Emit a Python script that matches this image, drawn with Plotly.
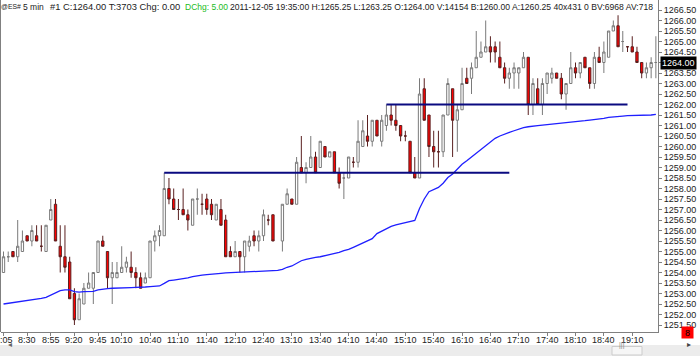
import plotly.graph_objects as go

# ---------------- data ----------------
bars = [i for i in range(139) if i != 58]
opens = [1254.0,1254.75,1255.0,1254.75,1255.0,1255.75,1255.5,1255.75,1255.25,1255.0,
         1256.5,1257.25,1255.25,1254.75,1254.5,1253.0,1251.75,1252.5,1253.25,1253.25,
         1254.0,1255.5,1255.0,1253.75,1253.75,1254.0,1254.25,1254.25,1254.0,1253.75,
         1253.5,1253.75,1255.5,1255.75,1255.75,1258.0,1257.5,1257.0,1257.0,1256.75,
         1256.25,1257.5,1257.25,1257.5,1257.25,1256.5,1257.0,1256.5,1255.0,1254.75,
         1255.0,1254.75,1255.25,1255.75,1255.5,1255.75,1256.5,1256.75,
         1255.5,1257.25,1257.5,1257.25,1259.0,1258.75,1259.0,1259.5,1259.0,1260.0,1259.5,
         1259.75,1258.75,1258.5,1258.5,1259.25,1259.25,1260.0,1260.5,1260.25,1261.25,
         1260.25,1261.0,1261.5,1261.25,1261.0,1260.5,1260.25,1258.75,1258.5,1262.75,
         1261.5,1260.0,1259.75,1259.75,1261.5,1262.75,1261.25,1261.75,1263.25,1263.25,
         1263.75,1264.25,1264.5,1264.75,1264.75,1264.25,1263.75,1263.25,1263.5,1263.5,
         1263.75,1264.25,1262.0,1262.75,1262.0,1263.0,1263.25,1263.5,1263.25,1262.5,
         1263.0,1263.75,1263.5,1264.25,1263.75,1263.0,1264.25,1264.0,1264.25,1265.5,
         1265.75,1265.0,1264.75,1264.75,1264.5,1264.0,1263.5,1263.75,1264.0]
highs = [1255.0,1255.0,1255.0,1256.5,1256.0,1255.75,1256.25,1256.25,1256.25,1256.25,
         1257.5,1257.5,1256.25,1256.25,1254.75,1253.25,1253.0,1253.5,1254.0,1254.0,
         1255.5,1255.75,1255.0,1254.5,1254.5,1255.25,1254.75,1255.0,1254.25,1254.0,
         1254.0,1255.5,1256.0,1256.25,1258.75,1258.5,1258.0,1257.5,1258.0,1257.0,
         1257.5,1258.0,1257.75,1257.75,1257.5,1257.25,1257.5,1256.75,1255.25,1255.5,
         1255.0,1255.5,1255.75,1256.0,1256.0,1257.0,1256.75,1256.75,
         1257.25,1258.0,1257.5,1259.5,1260.5,1259.25,1260.5,1259.75,1260.25,1260.0,1259.75,
         1259.75,1259.0,1258.75,1259.5,1259.5,1261.25,1261.25,1261.5,1261.25,1261.25,
         1261.5,1262.0,1262.0,1262.0,1261.0,1260.75,1260.25,1259.5,1263.25,1263.25,
         1261.5,1260.75,1260.75,1261.5,1263.25,1262.75,1262.0,1263.75,1263.75,1264.0,
         1265.5,1265.0,1266.0,1265.25,1265.0,1265.0,1264.0,1263.75,1264.0,1263.75,
         1264.5,1264.25,1263.25,1263.25,1263.25,1263.5,1263.75,1263.5,1263.5,1263.0,
         1264.5,1264.0,1264.0,1264.25,1263.75,1264.5,1264.75,1265.0,1265.5,1266.0,
         1266.25,1265.5,1264.75,1265.25,1264.75,1264.0,1264.0,1264.25,1265.25]
lows = [1254.0,1254.5,1254.75,1254.5,1255.0,1255.5,1255.25,1255.5,1255.0,1255.0,
        1256.5,1255.5,1254.0,1254.0,1252.75,1251.5,1251.75,1252.5,1253.25,1252.5,
        1254.0,1255.25,1253.25,1252.5,1253.75,1254.0,1254.0,1253.75,1253.25,1253.25,
        1253.5,1253.75,1255.0,1255.25,1255.75,1257.25,1257.0,1256.5,1256.75,1256.0,
        1256.25,1256.75,1256.75,1256.75,1256.5,1256.5,1256.25,1254.75,1254.75,1254.75,
        1254.0,1254.0,1255.0,1255.25,1255.0,1255.5,1256.25,1255.5,
        1255.0,1257.25,1257.25,1257.25,1258.75,1258.25,1259.0,1258.75,1259.0,1259.5,1259.5,
        1258.75,1258.0,1257.5,1258.5,1259.0,1259.0,1260.0,1260.0,1260.0,1260.5,
        1260.0,1260.75,1261.0,1260.75,1260.25,1260.25,1258.75,1258.5,1258.5,1261.25,
        1259.5,1259.0,1259.0,1259.5,1261.5,1259.5,1259.75,1261.75,1263.0,1262.5,
        1263.75,1264.25,1264.5,1264.0,1264.0,1263.75,1263.0,1262.75,1262.75,1262.75,
        1263.75,1261.5,1261.5,1262.0,1261.5,1262.5,1263.0,1263.25,1262.25,1261.75,
        1263.0,1263.25,1263.25,1263.75,1262.75,1262.75,1264.0,1263.5,1264.25,1265.5,
        1264.75,1264.5,1264.5,1264.5,1264.0,1263.25,1263.25,1263.25,1263.25]
closes = [1254.75,1254.75,1254.75,1255.25,1255.5,1255.5,1256.0,1255.5,1255.25,1256.25,
          1257.0,1255.5,1254.75,1254.25,1252.75,1251.75,1252.75,1253.25,1253.5,1254.0,
          1255.5,1255.25,1253.75,1254.0,1254.0,1254.25,1254.5,1254.0,1253.75,1253.25,
          1253.75,1255.5,1255.75,1256.0,1258.0,1257.5,1257.0,1257.0,1256.75,1256.5,
          1257.5,1257.5,1257.25,1257.0,1256.75,1257.25,1256.25,1254.75,1254.75,1255.0,
          1254.75,1255.5,1255.5,1255.5,1255.75,1256.75,1256.5,1255.5,
          1257.25,1257.75,1257.25,1259.25,1258.75,1259.0,1259.5,1258.75,1260.25,1259.5,1259.75,
          1258.75,1258.25,1258.5,1259.5,1259.25,1260.25,1260.75,1260.25,1261.25,1260.5,
          1261.25,1261.5,1261.25,1261.0,1260.5,1260.5,1258.75,1258.5,1262.5,1261.25,
          1260.0,1259.75,1259.75,1261.5,1263.0,1261.25,1261.75,1263.0,1263.0,1263.75,
          1264.25,1264.5,1264.75,1264.5,1264.5,1263.75,1263.25,1263.5,1263.75,1263.75,
          1264.25,1262.0,1263.0,1262.0,1263.0,1263.5,1263.5,1263.25,1262.5,1263.0,
          1263.75,1263.5,1264.0,1263.75,1263.0,1264.25,1264.0,1264.5,1265.5,1265.75,
          1264.75,1265.0,1264.75,1264.5,1264.0,1263.5,1263.75,1264.0,1264.0]

avg_line = [1252.50,1252.53,1252.56,1252.60,1252.63,1252.66,1252.69,1252.72,1252.77,1252.82,
            1252.93,1253.04,1253.14,1253.17,1253.17,1253.09,1253.07,1253.09,1253.09,1253.10,
            1253.17,1253.21,1253.23,1253.25,1253.25,1253.26,1253.28,1253.28,1253.29,1253.29,
            1253.31,1253.33,1253.34,1253.36,1253.48,1253.61,1253.64,1253.67,1253.71,1253.74,
            1253.80,1253.85,1253.88,1253.90,1253.91,1253.93,1253.96,1253.98,1253.99,1253.99,
            1254.01,1254.02,1254.02,1254.04,1254.06,1254.07,1254.07,1254.09,1254.10,1254.15,
            1254.25,1254.31,1254.44,1254.56,1254.63,1254.69,1254.72,1254.75,1254.80,1254.85,
            1254.91,1254.96,1255.04,1255.10,1255.20,1255.31,1255.42,1255.52,1255.61,1255.85,
            1255.97,1256.10,1256.20,1256.27,1256.33,1256.38,1256.43,1256.48,1257.05,1257.50,
            1257.85,1257.95,1258.05,1258.25,1258.52,1258.69,1258.92,1259.15,1259.32,1259.50,
            1259.70,1259.87,1260.02,1260.20,1260.39,1260.50,1260.60,1260.67,1260.75,1260.83,
            1260.90,1260.94,1260.98,1260.99,1261.02,1261.04,1261.07,1261.09,1261.10,1261.12,
            1261.15,1261.18,1261.20,1261.23,1261.26,1261.28,1261.29,1261.34,1261.39,1261.42,
            1261.44,1261.45,1261.47,1261.47,1261.48,1261.48,1261.50,1261.50,1261.53]

level_prices = [1258.75, 1262.0]
level_start_bar = [34, 81]
level_end_bar = [107, 132]

tick_bars = [0, 5, 10, 15, 20, 25, 31, 37, 43, 49, 55, 61, 67, 73, 79, 85, 91, 97, 103,
             109, 115, 121, 127, 133]
tick_labels = ["8:05", "8:30", "8:55", "9:20", "9:45", "10:10", "10:40", "11:10", "11:40",
               "12:10", "12:40", "13:10", "13:40", "14:10", "14:40", "15:10", "15:40",
               "16:10", "16:40", "17:10", "17:40", "18:10", "18:40", "19:10"]
last_price = 1264.0

header_parts = ["@ES#", "5 min", "#1 C:1264.00 T:3703 Chg: 0.00", "DChg: 5.00",
                "2011-12-05 19:35:00 H:1265.25 L:1263.25 O:1264.00 V:14154 B:1260.00 "
                "A:1260.25 40x431 0 BV:6968 AV:718"]

# ---------------- figure ----------------
W, H = 700, 356
ML, MR, MT, MB = 1, 42, 0, 24
PW, PH = W - ML - MR, H - MT - MB
FONT = "Liberation Sans, Arial, sans-serif"


def px(xp):
    return (xp - ML) / PW


def py(yp):
    return (H - MB - yp) / PH


fig = go.Figure()

fig.add_trace(go.Scatter(x=list(range(len(avg_line))), y=avg_line, mode="lines",
                         line=dict(color="#1f1fff", width=1.3), hoverinfo="skip"))

for lvl, s, e in zip(level_prices, level_start_bar, level_end_bar):
    fig.add_trace(go.Scatter(x=[s, e], y=[lvl, lvl], mode="lines",
                             line=dict(color="#0a0a80", width=2), hoverinfo="skip"))

fig.add_trace(go.Candlestick(
    x=bars, open=opens, high=highs, low=lows, close=closes,
    increasing=dict(line=dict(color="#7a7a7a", width=1), fillcolor="#ffffff"),
    decreasing=dict(line=dict(color="#5a2020", width=1), fillcolor="#ff0000"),
    whiskerwidth=0,
))

fig.update_layout(
    width=W, height=H, margin=dict(l=ML, r=MR, t=MT, b=MB, autoexpand=False),
    paper_bgcolor="white", plot_bgcolor="white", showlegend=False,
    font=dict(family=FONT, size=9, color="#222222"),
    xaxis=dict(range=[-0.53, 138.45], showgrid=False, zeroline=False,
               rangeslider=dict(visible=False), showline=True, linecolor="#808080",
               ticks="outside", ticklen=3, tickcolor="#808080",
               tickvals=tick_bars, showticklabels=False, automargin=False),
    yaxis=dict(range=[1251.167, 1266.976], side="right", showgrid=False, zeroline=False,
               showline=True, linecolor="#808080", ticks="outside", ticklen=3,
               tickcolor="#808080", tick0=1251.5, dtick=0.5, tickformat=".2f",
               automargin=False,
               tickfont=dict(size=9, color="#222222"), ticklabeloverflow="allow"),
)

# x tick labels (time of bar)
for b, lab in zip(tick_bars, tick_labels):
    fig.add_annotation(text=lab, xref="x", yref="paper", x=b, y=py(339.5),
                       xanchor="center", yanchor="middle", showarrow=False, borderpad=0,
                       font=dict(family=FONT, size=9, color="#222222"))

# left border
fig.add_shape(type="line", xref="paper", yref="paper", x0=px(0.5), x1=px(0.5), y0=0, y1=1,
              line=dict(color="#808080", width=1))

# header texts (text start positions in pixels)
hdr_x = [1, 23, 50, 185, 230]
hdr_size = [6.8, 8.5, 9.4, 8.5, 8.6]
hdr_col = ["#222222", "#222222", "#222222", "#22bb22", "#222222"]
for t, xp, fs, c in zip(header_parts, hdr_x, hdr_size, hdr_col):
    fig.add_annotation(text=t, xref="paper", yref="paper", x=px(xp), y=py(6.5),
                       xanchor="left", yanchor="middle",
                       showarrow=False, borderpad=0, borderwidth=0,
                       font=dict(family=FONT, size=fs, color=c))

# current price box
fig.add_annotation(text="%.2f" % last_price, xref="paper", yref="y", x=px(660), y=last_price,
                   xanchor="left", yanchor="middle", showarrow=False, bgcolor="black",
                   font=dict(family=FONT, size=9, color="white"), borderpad=1)

# scrollbar
fig.add_shape(type="rect", xref="paper", yref="paper", x0=px(0), x1=px(700), y0=py(345), y1=py(357),
              fillcolor="#ececec", line=dict(width=0), layer="below")
fig.add_shape(type="rect", xref="paper", yref="paper", x0=px(612), x1=px(642), y0=py(346.5), y1=py(355),
              fillcolor="#f6f6f6", line=dict(color="#cccccc", width=1))
fig.add_annotation(text="|||", xref="paper", yref="paper", x=px(627), y=py(350.5), showarrow=False,
                   font=dict(family=FONT, size=7, color="#888888"))
fig.add_annotation(text="◂", xref="paper", yref="paper", x=px(6), y=py(351), showarrow=False,
                   font=dict(family=FONT, size=8, color="#666666"))
fig.add_annotation(text="▸", xref="paper", yref="paper", x=px(693), y=py(351), showarrow=False,
                   font=dict(family=FONT, size=8, color="#444444"))
# red marker box
fig.add_annotation(text="8", xref="paper", yref="paper", x=px(693.5), y=py(338.5), showarrow=False,
                   bgcolor="#ff0000", borderpad=1, width=9, height=9,
                   font=dict(family=FONT, size=9, color="#000000"))

fig.write_html("out.html", config={"displayModeBar": False},
               post_script="document.body.style.margin='0';document.body.style.padding='0';"
                           "document.body.style.overflow='hidden';")
